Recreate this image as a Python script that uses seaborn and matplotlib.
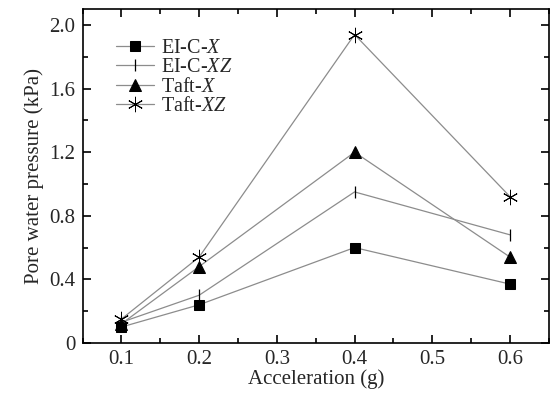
import pandas as pd
import matplotlib
matplotlib.use("Agg")
import matplotlib.pyplot as plt
import seaborn as sns

# values
acceleration = [0.1, 0.2, 0.4, 0.6]
ei_c_x = [0.10, 0.24, 0.60, 0.37]
ei_c_xz = [0.13, 0.30, 0.95, 0.68]
taft_x = [0.12, 0.48, 1.20, 0.54]
taft_xz = [0.15, 0.54, 1.94, 0.92]

series_names = ["EI-C-$X$", "EI-C-$XZ$", "Taft-$X$", "Taft-$XZ$"]
series_values = [ei_c_x, ei_c_xz, taft_x, taft_xz]

rows = []
for name, vals in zip(series_names, series_values):
    for a, v in zip(acceleration, vals):
        rows.append({"acc": a, "pwp": v, "case": name})
df = pd.DataFrame(rows)

sns.set_theme(style="ticks")
plt.rcParams["font.family"] = ["Liberation Serif", "DejaVu Serif"]
plt.rcParams["mathtext.fontset"] = "custom"
plt.rcParams["mathtext.rm"] = "Liberation Serif"
plt.rcParams["mathtext.it"] = "Liberation Serif:italic"

fig = plt.figure(figsize=(5.5, 3.96), dpi=100)
ax = fig.add_axes([0.150, 0.134, 0.848, 0.843])

styles = {
    "EI-C-$X$": dict(marker="s", markersize=7),
    "EI-C-$XZ$": dict(marker="|", markersize=9, markeredgewidth=0.9),
    "Taft-$X$": dict(marker="^", markersize=9),
    "Taft-$XZ$": dict(marker=(6, 2, 0), markersize=11, markeredgewidth=0.7),
}

for name in series_names:
    sub = df[df["case"] == name]
    sns.lineplot(data=sub, x="acc", y="pwp", ax=ax, color="#8c8c8c",
                 linewidth=0.9, markerfacecolor="black",
                 markeredgecolor="black", label=name, **styles[name])

ax.set_xlim(0.05, 0.65)
ax.set_ylim(0, 2.1)
ax.set_xticks([0.1, 0.2, 0.3, 0.4, 0.5, 0.6])
ax.set_xticks([0.05, 0.15, 0.25, 0.35, 0.45, 0.55, 0.65], minor=True)
ax.set_yticks([0, 0.4, 0.8, 1.2, 1.6, 2.0])
ax.set_yticklabels(["0", "0.4", "0.8", "1.2", "1.6", "2.0"])
ax.set_yticks([0.2, 0.6, 1.0, 1.4, 1.8], minor=True)

ax.tick_params(which="both", direction="in", top=True, right=True,
               labelsize=15, color="black", width=1.2, pad=5)
ax.tick_params(which="major", length=6)
ax.tick_params(which="minor", length=3.5)
for sp in ax.spines.values():
    sp.set_linewidth(1.2)
    sp.set_color("black")

ax.set_xlabel("Acceleration (g)", fontsize=15, labelpad=0)
ax.set_ylabel("Pore water pressure (kPa)", fontsize=15, labelpad=4)

ax.legend(loc="upper left", bbox_to_anchor=(0.055, 0.935), frameon=False,
          fontsize=14.5, handlelength=1.9, handletextpad=0.3,
          labelspacing=0.02, borderaxespad=0.0)

fig.savefig("out.png", dpi=100)
